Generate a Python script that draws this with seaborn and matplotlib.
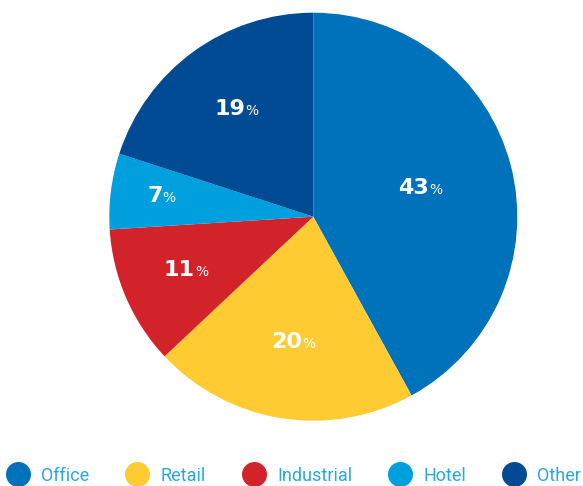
import matplotlib
matplotlib.use('Agg')
import matplotlib.pyplot as plt
from matplotlib.lines import Line2D
from matplotlib.offsetbox import TextArea, HPacker, AnnotationBbox
import numpy as np
import seaborn as sns

# Data
categories = ['Office', 'Retail', 'Industrial', 'Hotel', 'Other']
slice_shares = [42, 21, 11, 6, 20]       # wedge sizes as drawn in the picture
share_labels = ['43', '20', '11', '7', '19']  # printed labels
colors = sns.color_palette(['#0071bb', '#ffcb32', '#d2232a', '#009fdd', '#004b93'])

# Label distance from centre (fraction of radius), per slice
label_radius = [0.54, 0.63, 0.68, 0.75, 0.64]

sns.set_theme(style='white')
plt.rcParams['font.family'] = ['Roboto', 'DejaVu Sans']

fig = plt.figure(figsize=(5.83, 4.86), dpi=100)
# pie: centre ~(313, 217) px, radius ~204 px
ax = fig.add_axes([(313.3 - 204) / 583, (486 - 216.7 - 204) / 486, 408 / 583, 408 / 486])

wedges, _ = ax.pie(slice_shares, colors=colors, startangle=90, counterclock=False,
                   radius=1.0, wedgeprops=dict(linewidth=0))
ax.set_xlim(-1, 1)
ax.set_ylim(-1, 1)
ax.set_aspect('equal')
ax.axis('off')

for w, lab, r in zip(wedges, share_labels, label_radius):
    ang = np.deg2rad((w.theta1 + w.theta2) / 2)
    x, y = r * np.cos(ang), r * np.sin(ang)
    num = TextArea(lab, textprops=dict(color='white', fontsize=16, fontweight='bold',
                                       family='DejaVu Sans'))
    pct = TextArea('%', textprops=dict(color='white', fontsize=10, family='DejaVu Sans'))
    box = HPacker(children=[num, pct], align='baseline', pad=0, sep=0)
    ab = AnnotationBbox(box, (x, y), frameon=False, box_alignment=(0.5, 0.42))
    ax.add_artist(ab)

handles = [Line2D([], [], marker='o', linestyle='', markersize=18,
                  markerfacecolor=c, markeredgewidth=0) for c in colors]
leg = fig.legend(handles, categories, loc='lower center', ncol=5,
                 bbox_to_anchor=(0.503, -0.012), frameon=False,
                 prop=dict(family='Roboto', size=13),
                 handletextpad=0.6, columnspacing=1.95,
                 handlelength=1.39, borderaxespad=0)
for txt in leg.get_texts():
    txt.set_color('#29a8e0')

fig.savefig('out.png', dpi=100)
